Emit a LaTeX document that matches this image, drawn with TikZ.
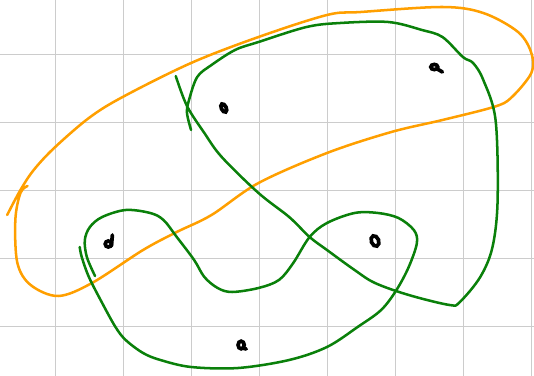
\documentclass[tikz,border=0pt]{standalone}
\usepackage{tikz}
\usetikzlibrary{calc}
\usepackage{xcolor}
\definecolor{gridgray}{HTML}{CCCCCC}
\definecolor{penorange}{HTML}{FF9F00}
\definecolor{pengreen}{HTML}{0A800A}

\begin{document}
\begin{tikzpicture}[
  x=0.0265cm, y=-0.0265cm,
  gridline/.style={gridgray, line width=1.4pt},
  stroke/.style={line width=1.9pt, line cap=round, line join=round},
  blob/.style={line width=2.8pt, black, line cap=round}
]
  \useasboundingbox (0,0) rectangle (534,376);

  % Grid
  \foreach \i in {0,...,7} {
    \draw[gridline] (55.5+\i*68, 0) -- (55.5+\i*68, 376);
  }
  \foreach \j in {0,...,4} {
    \draw[gridline] (0, 54.5+\j*68) -- (534, 54.5+\j*68);
  }

  \begin{scope}[xscale=1.0218]
  % Orange loop
  \draw[stroke, penorange] plot[smooth, tension=0.55] coordinates {
    (7,215) (20,190) (33,170) (53,148) (87,118) (120,97) (187,63)
    (253,37) (320,15) (353,12) (433,7) (473,13) (507,32) (520,53)
    (520,73) (500,98) (483,107) (433,120) (383,132) (320,153)
    (253,183) (207,215) (173,232) (140,250) (90,283) (57,296)
    (30,285) (17,263) (15,220) (20,193) (27,186)};

  % Green strokes
  \draw[stroke, pengreen] plot[smooth, tension=0.55] coordinates {
    (172,76) (183,106) (200,133) (217,157) (253,193) (283,217)
    (303,237) (320,250) (347,270) (367,283) (400,295) (440,305)
    (450,302) (470,277) (482,247) (487,200) (485,120) (473,80)
    (463,63) (453,57) (433,37) (413,30) (380,22) (333,23) (300,27)
    (253,42) (230,50) (207,65) (193,77) (185,100) (183,113) (187,130)};
  \draw[stroke, pengreen] plot[smooth, tension=0.55] coordinates {
    (93,276) (85,257) (83,240) (88,227) (100,217) (123,210) (147,213)
    (160,220) (173,237) (190,260) (200,277) (213,288) (227,292)
    (253,288) (273,280) (287,263) (303,237) (320,223) (347,213)
    (370,213) (390,218) (405,230) (408,243) (400,267) (388,290)
    (373,310) (350,327) (320,347) (283,360) (233,368) (187,367)
    (157,360) (140,353) (123,340) (113,327) (100,303) (87,277)
    (80,257) (78,247)};

  % Points
  \draw[blob] (219,108) ellipse [x radius=2.4, y radius=4.4, rotate=25];
  \draw[blob] (425,67) ellipse [x radius=3.4, y radius=2.6];
  \draw[blob] (428,69) -- (433,72);
  \draw[blob] (106,244) ellipse [x radius=3, y radius=3];
  \draw[blob] (109,246) -- (110,235);
  \draw[blob] (367,241) ellipse [x radius=3.6, y radius=5.4, rotate=20];
  \draw[blob] (236,345) ellipse [x radius=3, y radius=3.8];
  \draw[blob] (237,348) -- (241,349);
  \end{scope}
\end{tikzpicture}
\end{document}
